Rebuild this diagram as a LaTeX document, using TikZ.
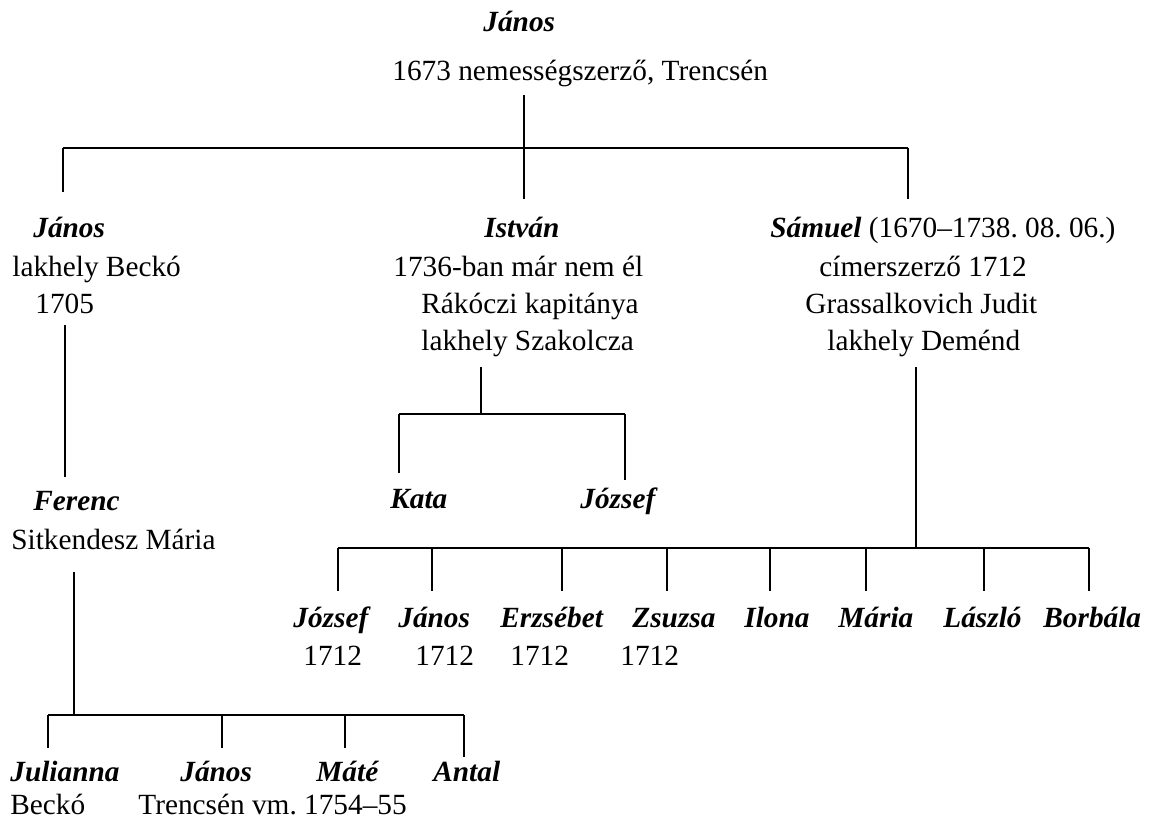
\documentclass[tikz,border=0pt]{standalone}
\usepackage{fontspec}
\setmainfont{Liberation Serif}
\frenchspacing

\newcommand\famsize{\fontsize{14.65pt}{17pt}\selectfont}

\tikzset{
  note/.style={inner sep=0pt, anchor=base west, font=\famsize},
  person/.style={note, font=\famsize\bfseries\itshape},
  bar/.style={line width=1pt},
  stem/.style={line width=0.75pt}
}

\begin{document}
\begin{tikzpicture}[x=0.5pt, y=-0.5pt]
  \useasboundingbox (0, 0) rectangle (1154, 825);

  % first generation
  \node[person] (janos) at (483, 31) {János};
  \node[note] (janosnote) at (392, 80) {1673 nemességszerző, Trencsén};

  % second generation
  \node[person] (janos2) at (33, 237) {János};
  \node[note] (janos2a) at (12, 276) {lakhely Beckó};
  \node[note] (janos2b) at (35, 313) {1705};

  \node[person] (istvan) at (484, 237) {István};
  \node[note] (istvana) at (393, 276) {1736-ban már nem él};
  \node[note] (istvanb) at (421, 313) {Rákóczi kapitánya};
  \node[note] (istvanc) at (421, 350) {lakhely Szakolcza};

  \node[note] (samuel) at (770, 237) {{\bfseries\itshape Sámuel} (1670–1738. 08. 06.)};
  \node[note] (samuela) at (819, 276) {címerszerző 1712};
  \node[note] (samuelb) at (805, 313) {Grassalkovich Judit};
  \node[note] (samuelc) at (827, 350) {lakhely Deménd};

  % third generation
  \node[person] (ferenc) at (33, 510) {Ferenc};
  \node[note] (ferenca) at (11, 549) {Sitkendesz Mária};

  \node[person] (kata) at (390, 508) {Kata};
  \node[person] (jozsef) at (580, 508) {József};

  \foreach \x/\n/\t in {293/c1/József, 398/c2/János, 500/c3/Erzsébet,
    632/c4/Zsuzsa, 744/c5/Ilona, 838/c6/Mária, 943/c7/László, 1043/c8/Borbála}
    \node[person] (\n) at (\x, 627) {\t};
  \foreach \x/\n in {303/y1, 415/y2, 510/y3, 620/y4}
    \node[note] (\n) at (\x, 665) {1712};

  % fourth generation
  \foreach \x/\n/\t in {10/g1/Julianna, 180/g2/János, 316/g3/Máté, 433/g4/Antal}
    \node[person] (\n) at (\x, 781) {\t};
  \node[note] (g1a) at (10, 814) {Beckó};
  \node[note] (g2a) at (138, 814) {Trencsén vm. 1754–55};

  % János' children
  \coordinate (top-s) at (524, 95);
  \coordinate (top-b) at (524, 148);
  \draw[stem] (top-s) -- (top-b);
  \foreach \x/\y [count=\i] in {63/192, 524/199, 908/199} {
    \coordinate (top-u\i) at (\x, 148);
    \coordinate (top-d\i) at (\x, \y);
    \draw[stem] (top-u\i) -- (top-d\i);
  }
  \draw[bar] (top-u1) -- (top-u3);

  % János to Ferenc
  \coordinate (jf-s) at (65, 325);
  \coordinate (jf-d) at (65, 477);
  \draw[stem] (jf-s) -- (jf-d);

  % Ferenc's children
  \coordinate (fer-s) at (74, 572);
  \coordinate (fer-b) at (74, 715);
  \draw[stem] (fer-s) -- (fer-b);
  \foreach \x/\y [count=\i] in {48/748, 222/748, 345/748, 464/757} {
    \coordinate (fer-u\i) at (\x, 715);
    \coordinate (fer-d\i) at (\x, \y);
    \draw[stem] (fer-u\i) -- (fer-d\i);
  }
  \draw[bar] (fer-u1) -- (fer-u4);

  % István's children
  \coordinate (ist-s) at (481, 367);
  \coordinate (ist-b) at (481, 414);
  \draw[stem] (ist-s) -- (ist-b);
  \foreach \x/\y [count=\i] in {399/473, 625/480} {
    \coordinate (ist-u\i) at (\x, 414);
    \coordinate (ist-d\i) at (\x, \y);
    \draw[stem] (ist-u\i) -- (ist-d\i);
  }
  \draw[bar] (ist-u1) -- (ist-u2);

  % Sámuel's children
  \coordinate (sam-s) at (916, 367);
  \coordinate (sam-b) at (916, 548);
  \draw[stem] (sam-s) -- (sam-b);
  \foreach \x [count=\i] in {338, 432, 562, 667, 770, 866, 984, 1089} {
    \coordinate (sam-u\i) at (\x, 548);
    \coordinate (sam-d\i) at (\x, 591);
    \draw[stem] (sam-u\i) -- (sam-d\i);
  }
  \draw[bar] (sam-u1) -- (sam-u8);
\end{tikzpicture}
\end{document}
